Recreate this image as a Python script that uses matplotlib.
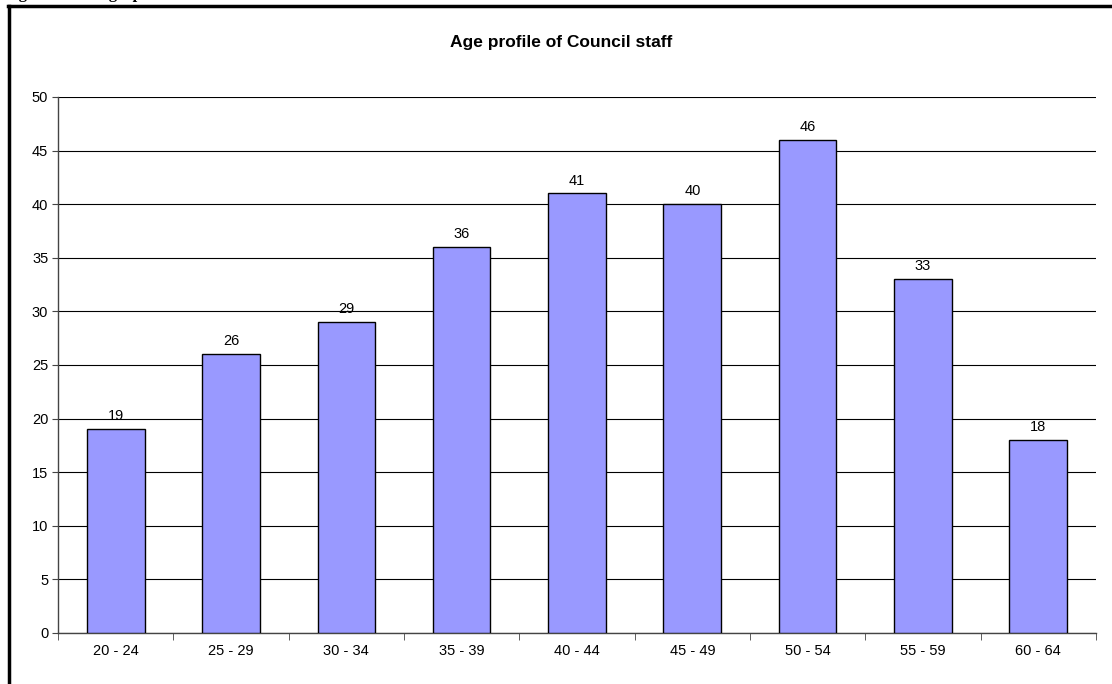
import matplotlib
matplotlib.use('Agg')
from matplotlib import pyplot as plt
from matplotlib.lines import Line2D

age_groups = ['20 - 24', '25 - 29', '30 - 34', '35 - 39', '40 - 44',
              '45 - 49', '50 - 54', '55 - 59', '60 - 64']
staff = [19, 26, 29, 36, 41, 40, 46, 33, 18]
y_ticks = [0, 5, 10, 15, 20, 25, 30, 35, 40, 45, 50]

plt.rcParams['font.family'] = ['Liberation Sans', 'DejaVu Sans']

W, H = 1112, 684
fig = plt.figure(figsize=(W/100, H/100), dpi=100)

# caption above the frame, cut off by the page edge (only descenders show)
fig.text(4/W, 1 + 1.5/H, 'Figure 2 Demographics', family='Liberation Serif',
         weight='bold', fontsize=12, va='baseline', ha='left')

# outer frame (left + top edges only)
fig.add_artist(Line2D([8.5/W, 8.5/W], [0, 1 - 5.5/H], color='black', lw=2.5))
fig.add_artist(Line2D([7.5/W, 1], [1 - 5.5/H, 1 - 5.5/H], color='black', lw=2.5))

ax = fig.add_axes([58/W, 1 - 633/H, (1096 - 58)/W, (633 - 97)/H])
x = list(range(len(age_groups)))
ax.bar(x, staff, width=0.5, color='#9999FF', edgecolor='black',
       linewidth=1, zorder=3)
for xi, v in zip(x, staff):
    ax.text(xi, v + 0.55, str(v), ha='center', va='bottom', fontsize=10.5)

ax.set_xlim(-0.5, len(age_groups) - 0.5)
ax.set_ylim(0, 50)
ax.set_yticks(y_ticks)
ax.yaxis.grid(True, color='black', linewidth=0.8, zorder=0)
ax.set_axisbelow(True)

ax.set_xticks(x)
ax.set_xticklabels(age_groups, fontsize=10.5)
ax.tick_params(axis='x', length=0, pad=8)
ax.set_xticks([i - 0.5 for i in range(len(age_groups) + 1)], minor=True)
ax.tick_params(axis='x', which='minor', length=5, direction='out', color='#444444')
ax.tick_params(axis='y', length=4, direction='out', labelsize=10.5, pad=3, color='#444444')

for s in ['top', 'right']:
    ax.spines[s].set_visible(False)
for s in ['left', 'bottom']:
    ax.spines[s].set_color('#444444')
    ax.spines[s].set_linewidth(1)

fig.text(561/W, 1 - 42/H, 'Age profile of Council staff', ha='center', va='center',
         fontsize=12.5, weight='bold')

plt.savefig('out.png', dpi=100)
